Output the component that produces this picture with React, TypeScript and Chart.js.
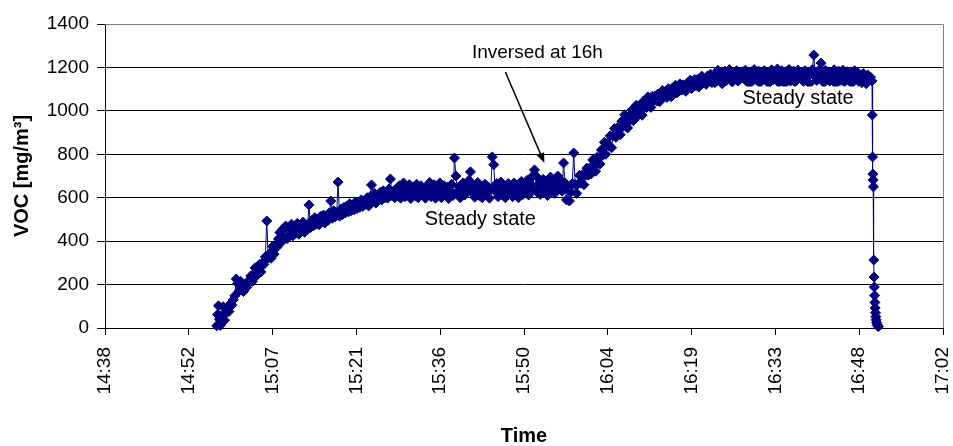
import React, { useEffect, useRef } from "react";
import { Chart, registerables } from "chart.js";

Chart.register(...registerables);

// Time axis in minutes after midnight; ticks every 0.01 day (14.4 min)
const TICK_MINUTES = [878.4, 892.8, 907.2, 921.6, 936, 950.4, 964.8, 979.2, 993.6, 1008, 1022.4];
const TICK_LABELS = ["14:38", "14:52", "15:07", "15:21", "15:36", "15:50", "16:04", "16:19", "16:33", "16:48", "17:02"];
const Y_MIN = 0;
const Y_MAX = 1400;
const Y_STEP = 200;

// start-up readings (minutes after midnight / mg/m3)
const START_TIMES = [897.6, 897.75, 897.9, 898.05];
const START_VOC = [10, 62, 102, 40];

// logged readings, one every 15 s from 14:58:12
const MAIN_START = 898.2;
const MAIN_STEP = 0.25;
const MAIN_VOC = [
  12, 58, 98, 36, 70, 88, 76, 112, 105, 130, 148, 226, 205, 170, 215, 180, 168, 200, 186, 214,
  210, 240, 214, 249, 277, 241, 267, 293, 258, 299, 293, 327, 493, 322, 343, 321, 375, 340, 380, 372,
  410, 440, 395, 456, 420, 470, 412, 458, 430, 478, 425, 465, 440, 482, 432, 470, 450, 488, 441, 470,
  470, 567, 462, 495, 470, 508, 478, 500, 476, 515, 490, 520, 484, 510, 495, 530, 585, 505, 540, 512,
  520, 672, 515, 548, 522, 555, 530, 562, 535, 572, 540, 566, 545, 580, 550, 575, 556, 590, 560, 585,
  570, 600, 562, 605, 659, 590, 620, 575, 612, 595, 625, 590, 632, 600, 618, 598, 640, 686, 610, 630,
  600, 640, 612, 655, 598, 630, 668, 605, 645, 620, 660, 596, 635, 650, 610, 662, 600, 628, 655, 615,
  640, 598, 652, 615, 670, 605, 632, 660, 598, 645, 622, 668, 600, 638, 655, 612, 648, 596, 630, 662,
  610, 783, 700, 628, 650, 600, 645, 668, 612, 640, 660, 680, 719, 625, 655, 602, 642, 670, 610, 648,
  600, 635, 662, 615, 650, 598, 640, 788, 752, 630, 665, 605, 640, 672, 612, 650, 600, 638, 665, 618,
  645, 605, 668, 622, 650, 600, 640, 675, 615, 655, 630, 680, 612, 660, 695, 640, 728, 700, 625, 665,
  615, 655, 685, 630, 670, 610, 650, 695, 640, 675, 620, 662, 700, 645, 680, 630, 760, 668, 590, 640,
  585, 625, 665, 806, 660, 620, 664, 703, 667, 706, 660, 703, 736, 704, 737, 710, 774, 748, 722, 786,
  780, 755, 820, 795, 855, 800, 850, 840, 885, 830, 885, 919, 878, 922, 911, 890, 952, 929, 982, 929,
  921, 977, 958, 1004, 955, 990, 1026, 977, 1023, 1004, 980, 1045, 1025, 1015, 1065, 1050, 1016, 1067, 1048, 1069,
  1045, 1078, 1042, 1075, 1094, 1067, 1090, 1062, 1102, 1084, 1065, 1106, 1088, 1118, 1083, 1108, 1124, 1095, 1120, 1108,
  1090, 1127, 1112, 1141, 1103, 1128, 1144, 1116, 1144, 1110, 1135, 1160, 1129, 1147, 1122, 1161, 1140, 1169, 1130, 1157,
  1130, 1165, 1187, 1145, 1175, 1125, 1160, 1183, 1140, 1170, 1190, 1153, 1133, 1177, 1163, 1185, 1137, 1173, 1150, 1180,
  1155, 1187, 1135, 1170, 1125, 1180, 1150, 1190, 1165, 1140, 1183, 1130, 1173, 1160, 1185, 1145, 1175, 1127, 1167, 1189,
  1143, 1175, 1160, 1193, 1130, 1167, 1185, 1147, 1125, 1180, 1155, 1191, 1137, 1171, 1183, 1133, 1163, 1188, 1151, 1177,
  1165, 1135, 1185, 1153, 1177, 1125, 1170, 1190, 1257, 1160, 1140, 1183, 1155, 1220, 1173, 1130, 1187, 1150, 1180, 1137,
  1175, 1147, 1189, 1125, 1163, 1183, 1140, 1170, 1187, 1133, 1157, 1180, 1145, 1173, 1127, 1165, 1185, 1153, 1177, 1135,
  1160, 1130, 1172, 1145, 1125, 1165, 1140, 1155, 1138,
];

// shut-down readings
const DROP_TIMES = [1010.25, 1010.3, 1010.35, 1010.4, 1010.45, 1010.5, 1010.55, 1010.6, 1010.65, 1010.7, 1010.75, 1010.8, 1010.85, 1010.9, 1011.0, 1011.1, 1011.2, 1011.3];
const DROP_VOC = [981, 788, 709, 682, 650, 313, 235, 189, 150, 118, 92, 70, 52, 38, 25, 15, 9, 6];

// annotations in data units (time in minutes, VOC)
const NOTE_TEXTS = ["Inversed at 16h", "Steady state", "Steady state"];
const NOTE_TIMES = [952.7, 942.9, 997.5];
const NOTE_VALUES = [1266, 502, 1059];
const ARROW_FROM = [947.2, 1179];
const ARROW_TO = [953.9, 760];

const FONT = "'Liberation Sans', Arial, Helvetica, sans-serif";
const NAVY = "#000080";

const notesPlugin = {
  id: "notes",
  beforeDatasetsDraw(chart: any) {
    const { ctx, chartArea } = chart;
    ctx.save();
    ctx.strokeStyle = "#808080";
    ctx.lineWidth = 1;
    ctx.beginPath();
    ctx.moveTo(chartArea.left, Math.round(chartArea.top) + 0.5);
    ctx.lineTo(Math.round(chartArea.right) + 0.5, Math.round(chartArea.top) + 0.5);
    ctx.lineTo(Math.round(chartArea.right) + 0.5, chartArea.bottom);
    ctx.stroke();
    ctx.restore();
  },
  afterDatasetsDraw(chart: any) {
    const { ctx, scales } = chart;
    const xs = scales.x;
    const ys = scales.y;
    ctx.save();
    // arrow
    const x1 = xs.getPixelForValue(ARROW_FROM[0]);
    const y1 = ys.getPixelForValue(ARROW_FROM[1]);
    const x2 = xs.getPixelForValue(ARROW_TO[0]);
    const y2 = ys.getPixelForValue(ARROW_TO[1]);
    const ang = Math.atan2(y2 - y1, x2 - x1);
    const headLen = 10;
    const headW = 4;
    ctx.strokeStyle = "#000";
    ctx.fillStyle = "#000";
    ctx.lineWidth = 1.5;
    ctx.beginPath();
    ctx.moveTo(x1, y1);
    ctx.lineTo(x2 - Math.cos(ang) * headLen * 0.8, y2 - Math.sin(ang) * headLen * 0.8);
    ctx.stroke();
    ctx.beginPath();
    ctx.moveTo(x2, y2);
    ctx.lineTo(x2 - Math.cos(ang) * headLen - Math.sin(ang) * headW, y2 - Math.sin(ang) * headLen + Math.cos(ang) * headW);
    ctx.lineTo(x2 - Math.cos(ang) * headLen + Math.sin(ang) * headW, y2 - Math.sin(ang) * headLen - Math.cos(ang) * headW);
    ctx.closePath();
    ctx.fill();

    // texts
    NOTE_TEXTS.forEach((t, i) => {
      const size = i === 0 ? 19 : 20;
      ctx.font = `${size}px ${FONT}`;
      const cx = xs.getPixelForValue(NOTE_TIMES[i]);
      const cy = ys.getPixelForValue(NOTE_VALUES[i]);
      const w = ctx.measureText(t).width;
      if (i > 0) {
        ctx.fillStyle = "#fff";
        ctx.fillRect(cx - w / 2 - 7, cy - 11.5, w + 14, 23);
      }
      ctx.fillStyle = "#000";
      ctx.textAlign = "center";
      ctx.textBaseline = "middle";
      ctx.fillText(t, cx, cy);
    });
    ctx.restore();
  },
};

export default function App() {
  const ref = useRef<HTMLCanvasElement>(null);

  useEffect(() => {
    document.body.style.margin = "0";
    Chart.defaults.font.family = FONT;
    Chart.defaults.color = "#000";

    const points: { x: number; y: number }[] = [];
    START_TIMES.forEach((t, i) => points.push({ x: t, y: START_VOC[i] }));
    MAIN_VOC.forEach((v, i) => points.push({ x: MAIN_START + i * MAIN_STEP, y: v }));
    DROP_TIMES.forEach((t, i) => points.push({ x: t, y: DROP_VOC[i] }));

    const chart = new Chart(ref.current as HTMLCanvasElement, {
      type: "line",
      data: {
        datasets: [
          {
            data: points,
            borderColor: NAVY,
            backgroundColor: NAVY,
            borderWidth: 1,
            pointStyle: "rectRot",
            pointRadius: 5,
            pointBorderWidth: 1,
            pointBackgroundColor: NAVY,
            pointBorderColor: NAVY,
            tension: 0,
            clip: false as any,
          },
        ],
      },
      options: {
        animation: false,
        responsive: true,
        maintainAspectRatio: false,
        layout: { padding: { left: 0, right: 10, top: 24, bottom: 0 } },
        plugins: { legend: { display: false }, tooltip: { enabled: false } },
        scales: {
          x: {
            type: "linear",
            min: TICK_MINUTES[0],
            max: TICK_MINUTES[TICK_MINUTES.length - 1],
            afterBuildTicks: (s: any) => {
              s.ticks = TICK_MINUTES.map((v) => ({ value: v }));
            },
            afterFit: (s: any) => {
              s.height = 118;
              s.paddingLeft = 0;
              s.paddingRight = 0;
            },
            ticks: {
              autoSkip: false,
              maxRotation: 90,
              minRotation: 90,
              padding: 12,
              color: "#000",
              font: { size: 19 },
              callback: (_v: any, i: number) => TICK_LABELS[i],
            },
            grid: { drawOnChartArea: false, drawTicks: true, tickLength: 7, color: "#000" },
            border: { display: true, color: "#000" },
            title: {
              display: true,
              text: "Time",
              color: "#000",
              font: { size: 20, weight: "bold" },
              padding: { top: 0, bottom: -2 },
            },
          },
          y: {
            min: Y_MIN,
            max: Y_MAX,
            afterFit: (s: any) => {
              s.width = 105;
            },
            ticks: {
              stepSize: Y_STEP,
              padding: 8,
              color: "#000",
              font: { size: 19 },
              callback: (v: any) => String(v),
            },
            grid: { color: "#000", tickLength: 8 },
            border: { display: true, color: "#000" },
            title: {
              display: true,
              text: "VOC [mg/m³]",
              color: "#000",
              font: { size: 20, weight: "bold" },
              padding: { top: 10, bottom: 0 },
            },
          },
        },
      } as any,
      plugins: [notesPlugin],
    });
    return () => chart.destroy();
  }, []);

  return (
    <div style={{ width: 953, height: 446, position: "relative" }}>
      <canvas ref={ref} />
    </div>
  );
}
